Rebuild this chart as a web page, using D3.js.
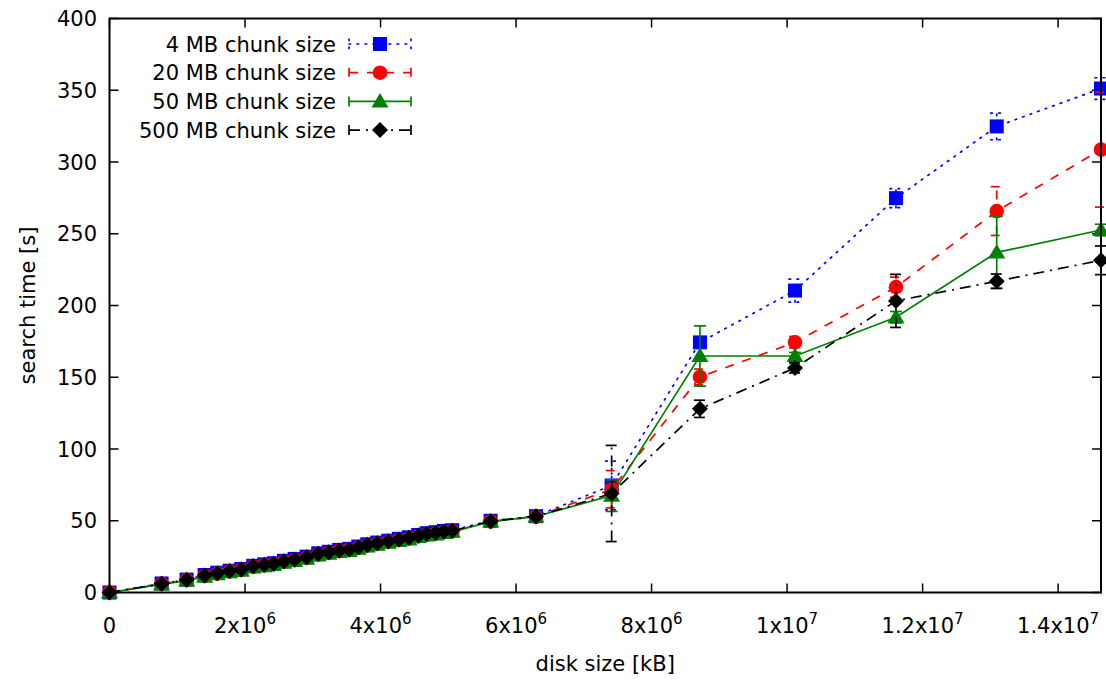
<!DOCTYPE html>
<html><head><meta charset="utf-8">
<script src="https://cdn.jsdelivr.net/npm/d3@7"></script>
<style>body{margin:0;background:#fff}svg{display:block}text{font-family:"DejaVu Sans",sans-serif;fill:#000}</style>
</head><body><svg id="c" width="1106" height="681"></svg>
<script>
// ---- data ----
const diskSize = [0, 769000, 1138000, 1404000, 1590000, 1773000, 1944000, 2121000, 2283000, 2422000,
  2574000, 2732000, 2909000, 3080000, 3238000, 3390000, 3538000, 3671000, 3804000, 3951000,
  4114000, 4271000, 4419000, 4556000, 4680000, 4813000, 4936000, 5058000, 5625000, 6294000,
  7411000, 8714000, 10117000, 11607000, 13094000, 14633000];
const seriesNames = ["4 MB chunk size", "20 MB chunk size", "50 MB chunk size", "500 MB chunk size"];
const time4 = [0, 6.3, 9.0, 12.2, 13.8, 15.2, 16.4, 18.6, 19.6, 20.4, 22.1, 23.4, 25.0, 27.3, 28.4, 29.7, 30.4, 32.0, 33.6, 34.8,
  36.1, 37.4, 38.5, 40.1, 41.3, 42.0, 42.9, 43.4, 50.0, 53.2, 74.6, 174.3, 210.4, 274.8, 324.8, 351.2];
const err4 = [0.3, 0.5, 0.5, 0.6, 0.5, 0.6, 0.5, 0.6, 0.5, 0.6, 0.6, 0.5, 0.6, 0.6, 0.5, 0.6, 0.6, 0.5, 0.6, 0.6,
  0.6, 0.5, 0.6, 0.6, 0.5, 0.6, 0.6, 0.6, 0.8, 0.8, 17, 3, 8, 6.6, 9.3, 7.5];
const time20 = [0, 6.0, 8.6, 11.5, 13.2, 14.7, 15.7, 18.0, 18.9, 19.7, 21.4, 22.5, 24.1, 26.4, 27.6, 28.8, 29.6, 31.1, 32.7, 33.9,
  35.3, 36.6, 37.6, 39.1, 40.2, 41.0, 42.0, 42.6, 49.5, 52.8, 72.0, 150.2, 174.4, 212.8, 265.8, 308.6];
const err20 = [0.3, 0.5, 0.5, 0.5, 0.6, 0.5, 0.6, 0.5, 0.6, 0.5, 0.6, 0.6, 0.5, 0.6, 0.6, 0.5, 0.6, 0.6, 0.5, 0.6,
  0.6, 0.6, 0.5, 0.6, 0.6, 0.5, 0.6, 0.6, 0.8, 0.8, 13, 5.5, 4, 7, 17, 40];
const time50 = [0, 5.6, 8.2, 11.0, 12.7, 14.1, 15.2, 17.5, 18.3, 19.1, 20.8, 21.9, 23.5, 25.8, 27.0, 28.2, 29.0, 30.5, 32.1, 33.3,
  34.7, 35.9, 37.0, 38.6, 39.7, 40.5, 41.5, 42.3, 49.4, 53.0, 67.5, 164.8, 164.8, 191.8, 237.0, 252.6];
const err50 = [0.3, 0.5, 0.6, 0.5, 0.6, 0.5, 0.5, 0.6, 0.6, 0.5, 0.6, 0.5, 0.6, 0.6, 0.5, 0.6, 0.5, 0.6, 0.6, 0.5,
  0.6, 0.6, 0.5, 0.6, 0.5, 0.6, 0.6, 0.5, 0.8, 0.8, 11, 21, 2.5, 4, 25, 4];
const time500 = [0, 6.1, 8.9, 11.9, 13.5, 14.9, 16.0, 18.4, 19.3, 20.0, 21.8, 23.0, 24.6, 27.0, 28.1, 29.3, 30.0, 31.6, 33.3, 34.4,
  35.8, 37.0, 38.1, 39.7, 40.9, 41.6, 42.5, 43.0, 49.7, 53.0, 69.0, 128.0, 156.5, 203.2, 216.9, 231.5];
const err500 = [0.3, 0.5, 0.5, 0.6, 0.5, 0.6, 0.6, 0.5, 0.6, 0.6, 0.5, 0.6, 0.6, 0.5, 0.6, 0.6, 0.5, 0.6, 0.6, 0.5,
  0.6, 0.6, 0.5, 0.6, 0.6, 0.5, 0.6, 0.6, 0.8, 0.8, 33.5, 6, 3.5, 18.5, 5, 10];
const yTicks = [0, 50, 100, 150, 200, 250, 300, 350, 400];
const xTicks = [0, 2e6, 4e6, 6e6, 8e6, 1e7, 1.2e7, 1.4e7];
const xTickMantissa = ["0", "2x10", "4x10", "6x10", "8x10", "1x10", "1.2x10", "1.4x10"];
const xTickExponent = ["", "6", "6", "6", "6", "7", "7", "7"];
const xTitle = "disk size [kB]";
const yTitle = "search time [s]";

// ---- drawing ----
const svg = d3.select("#c");
const L = 109.5, R = 1101, T = 18.5, B = 592.5;
const x = d3.scaleLinear().domain([0, 14633000]).range([L, R]);
const y = d3.scaleLinear().domain([0, 400]).range([B, T]);
const FS = 21;

const styles = [
  {color: "#0000ff", dash: "1.6,6.4", cap: "round", shape: "square", t: time4, e: err4},
  {color: "#ff0000", dash: "9,9", cap: "butt", shape: "circle", t: time20, e: err20},
  {color: "#008000", dash: null, cap: "butt", shape: "triangle", t: time50, e: err50},
  {color: "#000000", dash: "11,6,2,6", cap: "butt", shape: "diamond", t: time500, e: err500}
];

function marker(g, shape, cx, cy, color) {
  if (shape === "square") g.append("rect").attr("x", cx - 7).attr("y", cy - 7).attr("width", 14).attr("height", 14).attr("fill", color);
  else if (shape === "circle") g.append("circle").attr("cx", cx).attr("cy", cy).attr("r", 7.3).attr("fill", color);
  else if (shape === "triangle") g.append("path").attr("d", `M${cx},${cy - 8.5}L${cx + 8.5},${cy + 6}L${cx - 8.5},${cy + 6}Z`).attr("fill", color);
  else g.append("path").attr("d", `M${cx},${cy - 8}L${cx + 8},${cy}L${cx},${cy + 8}L${cx - 8},${cy}Z`).attr("fill", color);
}
function applyStroke(sel, s) {
  sel.attr("stroke", s.color).attr("stroke-width", 1.7).attr("fill", "none").attr("stroke-linecap", s.cap);
  if (s.dash) sel.attr("stroke-dasharray", s.dash);
  return sel;
}

// axes: ticks (inward + mirrored)
const axG = svg.append("g").attr("stroke", "#000").attr("stroke-width", 1.5);
yTicks.forEach(v => {
  axG.append("line").attr("x1", L).attr("x2", L + 9).attr("y1", y(v)).attr("y2", y(v));
  axG.append("line").attr("x1", R).attr("x2", R - 9).attr("y1", y(v)).attr("y2", y(v));
});
xTicks.forEach(v => {
  axG.append("line").attr("x1", x(v)).attr("x2", x(v)).attr("y1", B).attr("y2", B - 9);
  axG.append("line").attr("x1", x(v)).attr("x2", x(v)).attr("y1", T).attr("y2", T + 9);
});

// series
styles.forEach((s, si) => {
  const g = svg.append("g");
  // error bars
  diskSize.forEach((d, i) => {
    const px = x(d), y1 = y(s.t[i] - s.e[i]), y2 = y(s.t[i] + s.e[i]);
    applyStroke(g.append("line").attr("x1", px).attr("x2", px).attr("y1", y1).attr("y2", y2), s);
    applyStroke(g.append("line").attr("x1", px - 6).attr("x2", px + 6).attr("y1", y1).attr("y2", y1), s);
    applyStroke(g.append("line").attr("x1", px - 6).attr("x2", px + 6).attr("y1", y2).attr("y2", y2), s);
  });
  const line = d3.line().x((d, i) => x(d)).y((d, i) => y(s.t[i]));
  applyStroke(g.append("path").attr("d", line(diskSize)), s);
  diskSize.forEach((d, i) => marker(g, s.shape, x(d), y(s.t[i]), s.color));

  // legend
  const ly = 44 + si * 28.7;
  svg.append("text").attr("x", 336).attr("y", ly + 7.5).attr("text-anchor", "end").attr("font-size", FS).text(seriesNames[si]);
  const lg = svg.append("g");
  applyStroke(lg.append("line").attr("x1", 349).attr("x2", 411).attr("y1", ly).attr("y2", ly), s);
  applyStroke(lg.append("line").attr("x1", 349).attr("x2", 349).attr("y1", ly - 5).attr("y2", ly + 5), s);
  applyStroke(lg.append("line").attr("x1", 411).attr("x2", 411).attr("y1", ly - 5).attr("y2", ly + 5), s);
  marker(lg, s.shape, 380, ly, s.color);
});

// border
svg.append("rect").attr("x", L).attr("y", T).attr("width", R - L).attr("height", B - T)
  .attr("fill", "none").attr("stroke", "#000").attr("stroke-width", 2);

// tick labels
yTicks.forEach(v => {
  svg.append("text").attr("x", 97).attr("y", y(v) + 7.5).attr("text-anchor", "end").attr("font-size", FS).text(v);
});
xTicks.forEach((v, i) => {
  const t = svg.append("text").attr("x", x(v)).attr("y", 633).attr("text-anchor", "middle").attr("font-size", FS);
  t.append("tspan").text(xTickMantissa[i]);
  if (xTickExponent[i]) t.append("tspan").attr("dy", -9).attr("font-size", 15).text(xTickExponent[i]);
});

// titles
svg.append("text").attr("x", (L + R) / 2).attr("y", 671).attr("text-anchor", "middle").attr("font-size", FS).text(xTitle);
svg.append("text").attr("transform", `translate(35,${(T + B) / 2}) rotate(-90)`).attr("text-anchor", "middle").attr("font-size", FS).text(yTitle);
</script></body></html>
